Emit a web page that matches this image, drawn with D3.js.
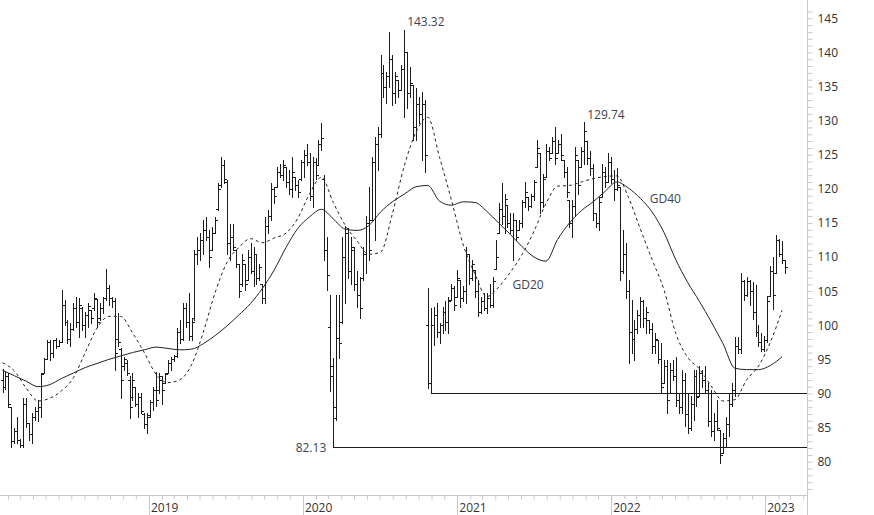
<!DOCTYPE html>
<html><head><meta charset="utf-8">
<script src="https://cdn.jsdelivr.net/npm/d3@7"></script>
<style>html,body{margin:0;padding:0;background:#fff;}svg{display:block;}</style>
</head><body><svg id="c" width="874" height="515"></svg>
<script>
// weekly bars, first week ending 2018-01-19
const firstWeek = Date.UTC(2018, 0, 19);
const highs = [
93.6,93.1,93.0,88.0,85.0,86.6,83.4,89.4,89.4,85.7,
87.2,88.0,89.0,93.0,95.2,97.9,97.9,97.9,98.1,97.9,
105.2,103.7,100.8,100.3,103.2,104.2,104.0,102.7,102.0,103.2,
102.2,104.7,103.9,103.2,104.2,108.3,105.9,104.2,104.0,101.8,
96.6,95.4,94.9,92.5,93.0,91.0,90.0,90.0,87.1,87.1,
89.1,91.0,93.2,93.0,92.5,93.0,94.9,95.4,95.7,99.6,
100.8,103.2,103.2,104.7,101.0,111.0,113.0,113.5,115.4,115.9,
114.0,114.4,115.9,120.8,124.7,124.2,121.3,114.9,114.9,111.0,
109.0,110.5,109.0,111.0,112.0,111.5,110.5,109.0,106.1,115.9,
116.9,120.8,120.3,123.2,123.7,124.2,123.2,122.7,124.7,121.8,
121.3,124.2,125.7,126.6,125.2,124.7,124.5,127.1,129.6,122.0,
113.0,104.4,95.2,104.4,104.4,113.0,114.5,114.2,113.0,111.5,
108.0,107.1,111.5,116.0,120.3,124.7,127.6,129.0,139.6,138.1,
137.1,143.0,139.6,137.1,135.9,138.1,143.32,140.0,137.8,135.2,
134.8,133.4,134.2,133.0,105.4,102.5,102.7,103.2,100.3,102.7,
103.5,104.2,106.1,105.7,108.1,106.6,105.7,111.5,110.5,109.6,
108.1,106.6,104.2,104.7,104.7,106.1,107.1,112.5,117.9,120.8,
119.3,117.6,116.4,116.4,115.4,115.4,118.3,121.0,118.8,119.3,
121.3,127.1,125.2,122.2,126.6,126.1,127.6,129.1,127.1,128.1,
124.2,123.2,118.3,118.3,126.1,124.2,126.1,129.74,127.0,125.5,
123.7,116.4,118.8,123.7,123.2,125.2,124.7,122.7,123.0,120.3,
114.0,112.0,106.6,103.7,100.8,102.2,104.2,103.7,102.7,100.8,
100.3,98.8,97.9,97.4,94.9,94.9,94.4,94.9,95.4,90.0,
93.5,93.0,90.0,89.6,93.5,93.5,94.0,93.5,94.0,91.5,
90.5,87.1,89.1,84.7,84.2,86.6,90.0,91.5,98.3,98.3,
107.6,106.6,107.1,106.6,106.4,105.9,100.1,98.8,98.4,104.3,
108.7,110.0,113.3,112.6,112.3,109.6];
const lows = [
90.2,90.6,88.0,82.2,82.8,82.8,82.1,82.2,85.1,83.2,
82.8,86.1,86.0,86.6,93.0,95.0,94.9,95.4,96.6,96.9,
97.6,100.0,97.4,96.9,99.3,99.8,98.3,99.3,98.3,99.8,
100.3,102.2,99.8,100.8,101.8,103.7,103.0,102.7,93.5,96.9,
89.3,93.5,92.7,86.4,89.1,88.1,86.6,87.1,84.9,84.2,
86.6,87.6,88.1,90.0,88.4,91.5,93.0,93.5,94.7,95.4,
97.4,97.9,99.8,97.9,97.9,100.8,109.0,109.6,110.5,112.5,
108.6,111.0,113.5,116.9,120.3,120.8,110.5,109.5,111.0,108.6,
104.2,105.7,105.2,106.6,107.6,105.7,106.1,106.6,103.2,103.2,
113.5,115.4,117.9,120.3,121.7,121.3,120.3,119.3,118.8,119.8,
118.8,121.3,121.8,123.5,118.3,117.4,121.5,123.5,125.7,109.6,
105.2,90.3,82.13,86.1,95.2,100.3,103.2,106.9,106.1,105.2,
102.7,101.0,106.6,107.6,109.6,115.4,112.5,122.7,127.6,133.5,
132.6,134.9,132.3,132.6,133.4,134.5,130.5,131.8,133.4,127.1,
127.1,129.6,124.2,122.5,90.8,90.0,97.1,98.3,97.4,98.8,
99.3,98.8,103.7,102.2,104.2,102.7,103.5,103.2,106.1,106.6,
104.2,101.3,101.8,102.2,101.8,102.7,102.7,108.3,113.5,114.9,
113.5,114.4,113.5,109.6,112.5,113.9,114.4,117.4,116.9,117.4,
118.3,123.2,116.4,117.4,121.8,124.2,125.2,123.7,125.2,124.2,
121.8,118.8,114.4,113.0,116.0,119.3,123.2,123.7,123.7,122.0,
115.4,114.4,114.0,118.8,120.3,121.0,120.8,118.3,119.8,106.6,
107.6,104.0,94.4,95.9,94.9,98.8,99.8,99.8,98.8,98.8,
95.9,95.9,94.4,90.0,91.5,87.1,90.0,92.0,88.1,87.1,
87.1,85.2,84.2,84.7,86.1,88.1,89.6,91.0,90.0,85.2,
83.7,83.2,84.7,79.8,81.3,82.2,83.7,88.1,89.6,95.9,
95.9,103.7,104.3,102.9,100.9,98.4,96.9,96.2,96.2,97.6,
104.3,102.4,107.7,110.1,109.1,107.7];
const opens = [
92.0,91.0,92.5,88.0,83.0,84.5,83.2,82.5,88.5,85.6,
84.0,86.5,87.5,88.0,93.0,95.0,97.5,96.0,97.8,97.0,
97.6,103.0,100.5,98.0,99.5,102.5,100.5,102.5,100.0,101.5,
102.2,102.5,103.9,101.0,102.5,104.0,105.5,104.0,103.5,98.0,
96.5,94.0,94.5,92.0,89.5,91.0,88.5,89.5,87.0,85.5,
86.8,88.8,90.5,90.5,92.0,91.5,93.0,94.5,95.0,95.5,
99.0,98.0,102.5,100.5,98.5,101.0,110.5,111.0,112.5,114.0,
113.0,111.0,113.5,117.0,120.5,123.5,121.0,112.0,113.0,111.0,
109.0,106.0,109.0,106.6,110.0,108.0,110.5,107.0,106.0,104.0,
114.5,116.0,120.0,120.3,122.5,122.0,123.2,121.0,120.0,121.8,
120.5,121.5,124.0,125.0,124.0,119.0,124.0,123.5,126.5,121.5,
111.0,99.8,92.5,88.0,98.1,100.5,110.0,113.5,108.0,111.0,
106.0,104.5,107.0,110.5,115.0,115.5,124.0,126.5,128.0,137.0,
135.0,136.5,139.0,134.0,135.9,134.5,137.5,140.0,134.0,135.2,
129.0,132.5,131.0,132.5,100.1,91.5,100.0,101.5,99.0,100.0,
102.0,100.5,103.7,105.5,104.2,106.6,104.0,105.0,110.5,107.0,
108.1,105.0,102.0,103.5,102.5,104.0,103.0,108.3,113.5,117.0,
116.0,117.6,115.0,114.0,115.4,114.0,115.0,118.0,118.8,117.5,
119.0,123.2,125.2,118.0,121.8,125.5,125.2,127.0,125.2,126.5,
124.2,122.5,118.3,115.0,117.5,124.2,123.2,125.5,127.0,124.5,
123.0,116.4,115.0,118.8,122.5,121.0,124.0,121.5,120.0,120.3,
108.0,110.5,105.0,99.0,98.0,99.5,101.5,103.5,101.0,100.8,
99.5,97.0,97.9,95.0,91.5,94.0,90.0,93.5,92.5,89.0,
88.0,92.0,87.0,85.0,88.5,92.5,89.6,93.0,92.0,90.5,
86.0,84.5,86.0,84.7,81.3,83.5,85.5,88.5,90.5,97.0,
96.5,106.5,104.5,106.5,105.0,102.0,99.0,97.5,96.5,97.8,
104.3,108.0,107.7,112.5,110.5,109.5];
const closes = [
91.0,92.5,88.5,83.0,84.5,83.2,82.5,88.5,85.6,84.0,
86.5,87.5,88.0,92.8,95.0,97.5,96.0,97.8,97.0,97.5,
103.0,100.5,98.0,99.5,102.5,100.5,103.0,100.0,101.5,102.8,
101.0,104.0,100.5,102.5,104.0,105.5,104.0,103.5,96.0,97.5,
92.0,95.0,93.0,88.0,92.0,88.5,89.5,87.5,85.5,86.5,
88.8,90.5,89.0,92.5,90.5,92.8,94.5,95.0,95.5,99.0,
98.0,102.5,100.5,98.5,100.5,110.5,111.0,112.5,114.0,113.0,
110.0,113.5,115.5,120.0,123.5,121.5,112.0,113.0,111.5,109.0,
105.0,109.5,106.0,110.0,108.0,110.5,107.0,108.5,104.0,114.5,
116.0,120.0,119.0,122.5,122.0,123.5,121.0,120.0,122.5,120.5,
119.5,124.0,125.0,124.0,119.0,124.0,122.0,126.5,127.5,111.0,
107.4,94.0,86.4,98.1,97.4,110.0,113.5,108.0,111.5,106.0,
104.5,102.5,110.5,115.0,111.0,124.0,126.5,128.0,137.0,135.0,
136.5,139.0,134.0,136.5,134.5,137.5,140.0,134.0,135.5,129.0,
132.5,131.0,132.5,125.0,91.5,100.0,101.5,99.0,100.0,102.0,
100.5,103.5,105.5,103.0,107.0,104.0,105.0,110.5,107.0,109.0,
105.0,102.0,103.5,102.5,104.0,103.0,106.5,110.0,117.0,116.0,
118.5,115.0,114.0,115.5,113.0,115.0,118.0,119.5,117.5,119.0,
121.0,126.0,118.0,121.5,125.5,124.5,127.0,124.5,126.5,125.0,
122.5,119.5,115.0,117.5,125.0,120.5,125.5,128.5,124.5,123.0,
116.5,115.0,118.0,122.5,121.0,124.0,121.5,120.0,120.5,108.0,
110.5,105.0,99.0,98.0,99.5,101.5,103.5,101.0,102.0,99.5,
97.0,98.0,95.0,91.0,94.0,89.0,93.5,92.5,89.0,88.0,
92.0,87.0,85.0,88.5,92.5,89.5,93.0,92.0,90.5,86.0,
84.5,86.0,85.0,81.0,83.5,85.5,88.5,90.5,97.0,96.5,
106.5,104.5,106.5,105.0,102.0,99.0,97.5,96.5,97.8,103.5,
108.0,104.5,112.5,110.5,109.5,108.5];
// moving averages read every 4 weeks (week index 0,4,8,...)
const maStep = 4;
const gd20 = [
94.5,93.3,90.8,88.9,89.3,90.4,92.3,96.0,99.6,101.3,
101.3,98.9,96.0,92.8,91.6,92.0,94.2,99.0,104.8,109.2,
111.4,112.7,112.1,112.8,113.5,115.7,119.3,121.7,118.0,114.7,
112.4,110.4,110.7,116.3,123.3,128.3,130.5,124.6,118.4,111.8,
107.5,104.2,105.6,107.8,110.4,113.8,117.8,120.4,120.5,121.0,
121.5,121.8,121.9,118.7,114.1,109.6,105.2,98.8,95.3,93.6,
91.1,88.9,89.1,92.0,94.0,97.5,102.2];
const gd40 = [
93.4,92.6,91.8,91.0,91.3,92.2,93.0,93.8,94.4,95.0,
95.5,96.0,96.4,96.8,96.6,96.4,96.5,97.3,98.5,99.9,
101.5,103.2,105.4,108.1,111.4,114.2,115.9,117.0,115.6,114.1,
113.9,114.6,116.6,118.1,119.2,120.3,120.5,118.2,117.6,118.1,
118.0,116.7,115.0,113.3,111.5,110.0,109.4,112.6,115.0,116.8,
118.1,119.6,121.0,120.1,118.6,116.6,113.6,109.6,106.3,103.5,
100.5,97.3,93.7,93.5,93.5,94.1,95.4];
const yTickValues = [80,85,90,95,100,105,110,115,120,125,130,135,140,145];
const yearTicks = [2019,2020,2021,2022,2023];
// annotations: [week index, value, text]
const peakLabels = [[136, 143.32, "143.32"], [197, 129.74, "129.74"]];
const lowLabel = [112, 82.13, "82.13"];
const supportFrom = [112, 145]; // horizontal lines from these bars' lows
const maLabels = [[172.7, 105.3, "GD20"], [219.2, 117.9, "GD40"]];

const W = 874, H = 515, axisX = 807, axisY = 495;
const svg = d3.select("#c");
const week = i => new Date(firstWeek + i * 7 * 864e5);
const x = d3.scaleUtc().domain([Date.UTC(2018,0,13), Date.UTC(2023,3,10)]).range([0, axisX]);
const y = d3.scaleLinear().domain([80,145]).range([461.7, 18.3]);
const FONT = "'Open Sans', 'DejaVu Sans', sans-serif";
const ink = "#1c1c1c", axisCol = "#c8c8c8", txt = "#333";

// axes
const gAxis = svg.append("g");
gAxis.append("line").attr("x1",0).attr("x2",axisX).attr("y1",axisY+0.5).attr("y2",axisY+0.5).attr("stroke",axisCol);
gAxis.append("line").attr("x1",axisX+0.5).attr("x2",axisX+0.5).attr("y1",0).attr("y2",H).attr("stroke",axisCol);

const yAxis = d3.axisRight(y).tickValues(d3.range(76,147)).tickSize(5).tickPadding(5)
  .tickFormat(d => yTickValues.includes(d) ? d : "");
const gy = svg.append("g").attr("transform",`translate(${axisX+0.5},0)`).call(yAxis);
gy.select(".domain").remove();
gy.selectAll(".tick line").attr("stroke",axisCol);
gy.selectAll(".tick text").attr("fill",txt).attr("font-family",FONT).attr("font-size",12);

const months = d3.utcMonth.range(x.domain()[0], x.domain()[1]);
const xAxis = d3.axisBottom(x).tickValues(months).tickSize(4).tickFormat("");
const gx = svg.append("g").attr("transform",`translate(0,${axisY+0.5})`).call(xAxis);
gx.select(".domain").remove();
gx.selectAll(".tick line").attr("stroke",axisCol);
const years = yearTicks.map(yr => new Date(Date.UTC(yr,0,1)));
const gyr = svg.append("g");
gyr.selectAll("line").data(years).join("line")
  .attr("x1",d=>Math.round(x(d))+0.5).attr("x2",d=>Math.round(x(d))+0.5)
  .attr("y1",axisY).attr("y2",H).attr("stroke",axisCol);
gyr.selectAll("text").data(years).join("text")
  .attr("x",d=>x(d)+2).attr("y",511.5).text(d=>d.getUTCFullYear())
  .attr("fill",txt).attr("font-family",FONT).attr("font-size",12);

// support lines
svg.append("g").selectAll("line").data(supportFrom).join("line")
  .attr("x1",i=>Math.round(x(week(i)))).attr("x2",axisX)
  .attr("y1",i=>Math.round(y(lows[i]))+0.5).attr("y2",i=>Math.round(y(lows[i]))+0.5)
  .attr("stroke",ink).attr("stroke-width",1);

// OHLC bars
const bars = d3.range(highs.length);
const px = i => Math.round(x(week(i))) + 0.5;
const py = v => Math.round(y(v)) + 0.5;
svg.append("g").attr("stroke",ink).attr("stroke-width",1).attr("fill","none")
  .attr("shape-rendering","crispEdges")
  .selectAll("path").data(bars).join("path")
  .attr("d", i => `M${px(i)},${Math.round(y(highs[i]))}V${Math.round(y(lows[i]))+1}` +
                  `M${px(i)-2.5},${py(opens[i])}H${px(i)}` +
                  `M${px(i)},${py(closes[i])}H${px(i)+2.5}`);

// moving averages
const maLine = d3.line().x((d,k)=>x(week(k*maStep))).y(d=>y(d)).curve(d3.curveMonotoneX);
svg.append("path").attr("d",maLine(gd40)).attr("fill","none").attr("stroke","#222").attr("stroke-width",1);
svg.append("path").attr("d",maLine(gd20)).attr("fill","none").attr("stroke","#222").attr("stroke-width",1)
  .attr("stroke-dasharray","3,3");

// labels
const lab = svg.append("g").attr("font-family",FONT).attr("font-size",12).attr("fill","#3c4452");
lab.selectAll("text.pk").data(peakLabels).join("text").attr("class","pk")
  .attr("x",d=>x(week(d[0]))+3).attr("y",d=>y(d[1])-3.5).text(d=>d[2]);
lab.append("text").attr("x",x(week(lowLabel[0]))-7).attr("y",y(lowLabel[1])+4.5)
  .attr("text-anchor","end").text(lowLabel[2]);
lab.selectAll("text.ma").data(maLabels).join("text").attr("class","ma")
  .attr("x",d=>x(week(d[0]))).attr("y",d=>y(d[1])).text(d=>d[2]);
</script>
</body></html>
